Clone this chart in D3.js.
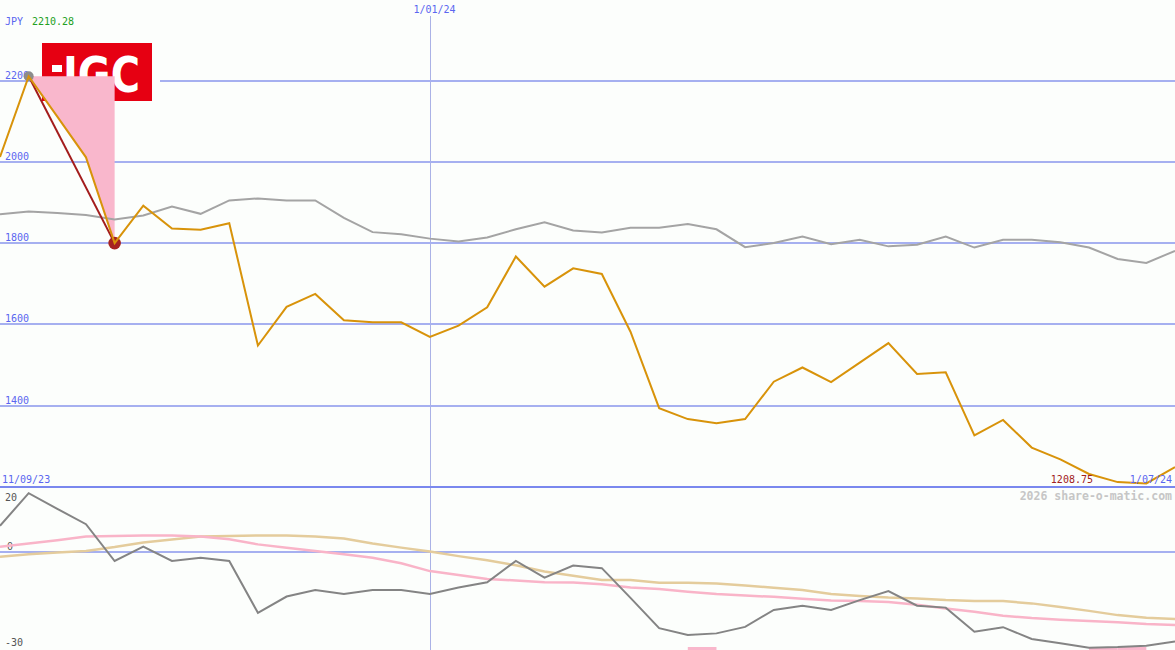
<!DOCTYPE html>
<html><head><meta charset="utf-8">
<script src="https://cdn.jsdelivr.net/npm/d3@7"></script>
<style>
html,body{margin:0;padding:0;background:#fcfefc;overflow:hidden}
svg{display:block}
text{font-family:"DejaVu Sans Mono",monospace;font-size:10px}
</style></head><body>
<svg id="c" width="1175" height="650"></svg>
<script>
const weeks = ["18/09/23","25/09/23","2/10/23","9/10/23","16/10/23","23/10/23","30/10/23","6/11/23","13/11/23","20/11/23","27/11/23","4/12/23","11/12/23","18/12/23","25/12/23","1/01/24","8/01/24","15/01/24","22/01/24","29/01/24","5/02/24","12/02/24","19/02/24","26/02/24","4/03/24","11/03/24","18/03/24","25/03/24","1/04/24","8/04/24","15/04/24","22/04/24","29/04/24","6/05/24","13/05/24","20/05/24","27/05/24","3/06/24","10/06/24","17/06/24","24/06/24","1/07/24"];
const price = [2012,2210.28,2111,2011,1800,1892,1836,1833,1849,1548,1643,1675,1610,1605,1605,1569,1597,1642,1767,1693,1738,1724,1582,1394,1367,1357,1367,1459,1494,1458,1506,1554,1478,1482,1327,1365,1297,1268,1232,1212,1208.75,1249];
const compare = [1871,1878,1874,1869,1858,1868,1890,1872,1905,1910,1905,1905,1862,1827,1822,1811,1804,1814,1834,1851,1831,1826,1838,1838,1847,1834,1790,1800,1816,1797,1808,1792,1796,1816,1789,1808,1808,1802,1789,1761,1751,1781];
const momentum = [8.1,18.1,13.3,8.6,-2.7,1.7,-2.7,-1.7,-2.7,-18.6,-13.6,-11.6,-12.8,-11.6,-11.6,-12.8,-10.8,-9.2,-2.7,-7.8,-4.1,-4.9,-14,-23.3,-25.4,-24.9,-22.9,-17.7,-16.4,-17.7,-14.7,-11.9,-16.4,-17,-24.4,-23,-26.6,-27.9,-29.3,-29.1,-28.7,-27.4];
const avgFast = [1.7,2.7,3.7,4.8,5.0,5.1,5.1,4.8,4.0,2.4,1.4,0.4,-0.6,-1.7,-3.4,-5.8,-7.0,-8.2,-8.7,-9.2,-9.3,-9.8,-10.8,-11.3,-12.1,-12.8,-13.3,-13.7,-14.3,-14.8,-15.0,-15.3,-16.1,-17.3,-18.3,-19.5,-20.2,-20.7,-21.1,-21.5,-22.0,-22.3];
const avgSlow = [-1.4,-0.6,-0.1,0.4,1.6,3.0,3.9,4.8,5.0,5.1,5.1,4.8,4.2,2.7,1.4,0.2,-1.2,-2.5,-4.0,-5.9,-7.2,-8.5,-8.5,-9.4,-9.4,-9.6,-10.2,-10.9,-11.6,-12.8,-13.4,-13.9,-14.2,-14.7,-15.0,-15.0,-15.7,-16.8,-18.0,-19.3,-20.1,-20.5];
const signalWeeks = ["4/03/24","10/06/24","17/06/24"];
const drawdownWeeks = ["25/09/23","16/10/23"];
const priceTicks = [2200,2000,1800,1600,1400];
const lowerTicks = [20,0,-30];
const dateLabels = ["11/09/23","1/01/24","1/07/24"];
const currency = "JPY";
const watermark = "2026 share-o-matic.com";

const svg = d3.select("#c");
const W = 1175;
const x = d3.scalePoint().domain(weeks).range([0, W]);
const y = d3.scaleLinear().domain([1200, 2200]).range([487, 80.5]);
const y2 = d3.scaleLinear().domain([-30, 20]).range([650, 487]);

const blue = "#5a66f0", grid = "#a6b0f0";

// vertical date line
const vx = Math.round(x("1/01/24")) + 0.5;
svg.append("line").attr("x1",vx).attr("x2",vx).attr("y1",16).attr("y2",650)
  .attr("stroke","#aab2e6").attr("stroke-width",1);

// main gridlines
svg.selectAll(".g").data(priceTicks).join("line")
  .attr("x1",0).attr("x2",W).attr("y1",d=>Math.round(y(d))).attr("y2",d=>Math.round(y(d)))
  .attr("stroke",grid).attr("stroke-width",2).attr("shape-rendering","crispEdges");
svg.selectAll(".gl").data(priceTicks).join("text")
  .attr("x",5).attr("y",d=>Math.round(y(d))-2).attr("fill",blue).text(d=>d);

// lower panel
svg.append("line").attr("x1",0).attr("x2",W).attr("y1",Math.round(y2(0))).attr("y2",Math.round(y2(0)))
  .attr("stroke",grid).attr("stroke-width",2).attr("shape-rendering","crispEdges");
svg.append("line").attr("x1",0).attr("x2",W).attr("y1",487).attr("y2",487)
  .attr("stroke","#7a88ee").attr("stroke-width",2).attr("shape-rendering","crispEdges");
svg.selectAll(".ll").data(lowerTicks).join("text")
  .attr("x",d=>d===0?7:5)
  .attr("y",d=>d===20?y2(d)+14:(d===0?y2(d)-2:y2(d)-4))
  .attr("fill","#555").text(d=>d);

// logo
svg.append("rect").attr("x",34).attr("y",36).attr("width",126).attr("height",72).attr("fill","#fcfefc");
svg.append("rect").attr("x",42).attr("y",43).attr("width",110).attr("height",58).attr("fill","#e60012");
svg.append("rect").attr("x",52).attr("y",65).attr("width",10).attr("height",7).attr("fill","#fff");
svg.append("text").attr("x",63).attr("y",92).attr("fill","#fff")
  .attr("textLength",77).attr("lengthAdjust","spacingAndGlyphs")
  .style("font-family","'DejaVu Sans',sans-serif")
  .style("font-weight","bold").style("font-size","50px").text("JGC");

// drawdown area
const iA = weeks.indexOf(drawdownWeeks[0]), iB = weeks.indexOf(drawdownWeeks[1]);
const ddIdx = d3.range(iA, iB+1);
svg.append("path").datum(ddIdx)
  .attr("d", d3.area().x(i=>x(weeks[i])).y0(y(price[iA])).y1(i=>y(price[i])))
  .attr("fill","#f9b7cc");

// signal bars
svg.selectAll(".sb").data(signalWeeks).join("rect")
  .attr("x",d=>x(d)).attr("width",x.step()).attr("y",647).attr("height",3).attr("fill","#f9b7cc");

// lower lines
const l2 = arr => d3.line().x((d,i)=>x(weeks[i])).y(d=>y2(d))(arr);
svg.append("path").attr("d",l2(avgSlow)).attr("fill","none").attr("stroke","#e4cc9c").attr("stroke-width",2.5);
svg.append("path").attr("d",l2(avgFast)).attr("fill","none").attr("stroke","#f9b4c8").attr("stroke-width",2.5);
svg.append("path").attr("d",l2(momentum)).attr("fill","none").attr("stroke","#848484").attr("stroke-width",2);

// main lines
const l1 = arr => d3.line().x((d,i)=>x(weeks[i])).y(d=>y(d))(arr);
svg.append("path").attr("d",l1(compare)).attr("fill","none").attr("stroke","#a4a4a4").attr("stroke-width",2);
svg.append("line").attr("x1",x(weeks[iA])).attr("y1",y(price[iA])).attr("x2",x(weeks[iB])).attr("y2",y(price[iB]))
  .attr("stroke","#a31c1c").attr("stroke-width",2);
svg.append("circle").attr("cx",x(weeks[iA])).attr("cy",y(price[iA])).attr("r",5).attr("fill","#8c8c8c");
svg.append("circle").attr("cx",x(weeks[iB])).attr("cy",y(price[iB])).attr("r",6.3).attr("fill","#a52222");
svg.append("path").attr("d",l1(price)).attr("fill","none").attr("stroke","#d8930a").attr("stroke-width",2);

// header texts
svg.append("text").attr("x",5).attr("y",25).attr("fill",blue).text(currency);
svg.append("text").attr("x",32).attr("y",25).attr("fill","#22a022").text(d3.max(price).toFixed(2));
svg.append("text").attr("x",vx-17).attr("y",13).attr("fill",blue).text(dateLabels[1]);
svg.append("text").attr("x",2).attr("y",483).attr("fill",blue).text(dateLabels[0]);
svg.append("text").attr("x",1172).attr("y",483).attr("text-anchor","end").attr("fill",blue).text(dateLabels[2]);
svg.append("text").attr("x",1093).attr("y",483).attr("text-anchor","end").attr("fill","#a02020").text(d3.min(price).toFixed(2));
svg.append("text").attr("x",1172).attr("y",500).attr("text-anchor","end").attr("fill","#c6c6c6")
  .style("font-size","11.5px").style("font-weight","bold").text(watermark);
</script></body></html>
